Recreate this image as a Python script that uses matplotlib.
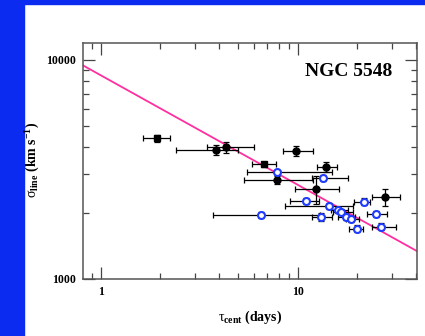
import numpy as np
import matplotlib
matplotlib.use("Agg")
import matplotlib.pyplot as plt
from matplotlib.patches import Rectangle
from matplotlib.ticker import LogLocator, NullFormatter, FixedLocator, FixedFormatter

plt.rcParams['font.family'] = ['Liberation Serif', 'DejaVu Serif']
plt.rcParams['mathtext.fontset'] = 'custom'
plt.rcParams['mathtext.rm'] = 'Liberation Serif:bold'
plt.rcParams['mathtext.it'] = 'Liberation Serif'

# black filled points (squares flagged)
blk_tau = [1.92, 3.83, 4.34, 6.74, 9.86, 14.0, 7.88, 12.4, 27.8]
blk_tau_lo = [1.64, 2.40, 3.44, 5.84, 8.45, 12.6, 5.35, 9.7, 24.0]
blk_tau_hi = [2.24, 5.0, 6.0, 7.73, 11.9, 15.8, 12.0, 16.2, 33.1]
blk_sig = [4385, 3877, 4000, 3336, 3836, 3252, 2827, 2572, 2356]
blk_sig_err = [150, 200, 230, 90, 190, 170, 120, 370, 210]
blk_square = [True, False, False, True, False, False, False, False, False]

# blue open circles
blu_tau = [7.85, 13.45, 11.06, 6.53, 14.42, 15.97, 16.66, 13.09, 17.54, 18.73, 21.65, 25.0, 19.95, 26.5]
blu_tau_lo = [5.5, 11.8, 9.14, 3.7, 8.6, 14.8, 15.2, 11.8, 16.0, 17.5, 19.3, 22.4, 18.3, 23.8]
blu_tau_hi = [15.0, 18.0, 12.9, 13.0, 19.2, 18.0, 19.0, 14.9, 19.5, 20.5, 23.3, 28.3, 21.4, 31.5]
blu_sig = [3066, 2896, 2266, 1962, 2157, 2062, 2025, 1909, 1921, 1875, 2250, 1970, 1693, 1729]
blu_sig_err = [90, 90, 70, 60, 70, 60, 60, 80, 60, 60, 80, 60, 60, 60]

# fit: sigma = norm * tau^slope
fit_norm = 8500
fit_slope = -0.5

fig = plt.figure(figsize=(4.25, 3.36), dpi=100, facecolor='white')
fig.patches.append(Rectangle((0, 0), 24 / 425, 1, transform=fig.transFigure,
                             color='#0b2bf0', zorder=-1))
fig.patches.append(Rectangle((0, 332 / 336), 1, 4 / 336, transform=fig.transFigure,
                             color='#0b2bf0', zorder=-1))

ax = fig.add_axes([0.1946, 0.1705, 0.786, 0.7025])
ax.set_xscale('log')
ax.set_yscale('log')
ax.set_xlim(0.807, 40.3)
ax.set_ylim(1000, 12000)

xf = np.array([0.807, 40.3])
ax.plot(xf, fit_norm * xf ** fit_slope, color='#ff2fa0', lw=1.3, zorder=2)

for t, lo, hi, s, e, sq in zip(blk_tau, blk_tau_lo, blk_tau_hi, blk_sig, blk_sig_err, blk_square):
    ax.errorbar([t], [s], xerr=[[t - lo], [hi - t]], yerr=[[e], [e]], fmt='s' if sq else 'o',
                color='black', ms=4.6 if sq else 5.0, elinewidth=0.9, capsize=2.5,
                capthick=0.9, zorder=3)

bt = np.array(blu_tau)
ax.errorbar(bt, blu_sig, xerr=[bt - np.array(blu_tau_lo), np.array(blu_tau_hi) - bt],
            yerr=blu_sig_err, fmt='none', ecolor='black', elinewidth=0.9, capsize=2.5,
            capthick=0.9, zorder=3)
ax.plot(bt, blu_sig, 'o', mfc='white', mec='#1f3cff', mew=1.5, ms=5.0, zorder=4)

ax.text(0.926, 0.877, 'NGC 5548', transform=ax.transAxes, ha='right', va='center',
        fontsize=14, fontweight='bold')

ax.xaxis.set_major_locator(FixedLocator([1, 10]))
ax.xaxis.set_major_formatter(FixedFormatter(['1', '10']))
ax.xaxis.set_minor_locator(LogLocator(base=10, subs=np.arange(2, 10)))
ax.xaxis.set_minor_formatter(NullFormatter())
ax.yaxis.set_major_locator(FixedLocator([1000, 10000]))
ax.yaxis.set_major_formatter(FixedFormatter(['1000', '10000']))
ax.yaxis.set_minor_locator(LogLocator(base=10, subs=np.arange(2, 10)))
ax.yaxis.set_minor_formatter(NullFormatter())

ax.tick_params(which='both', direction='in', top=True, right=True, color='#444444', width=0.9)
ax.tick_params(which='major', length=8.5, labelsize=8.5, pad=5)
ax.tick_params(which='minor', length=4.3)
for lab in ax.get_xticklabels() + ax.get_yticklabels():
    lab.set_fontweight('bold')
for sp in ax.spines.values():
    sp.set_color('#555555')
    sp.set_linewidth(1.1)

ax.set_xlabel(r'$\tau_{\rm cent}$ (days)', fontsize=10, fontweight='bold', labelpad=8)
ax.set_ylabel(r'$\sigma_{\rm line}$ (km s$^{-1}$)', fontsize=10, fontweight='bold', va='center')
ax.yaxis.set_label_coords(-0.149, 0.503)

fig.savefig('out.png', dpi=100, facecolor='white')
